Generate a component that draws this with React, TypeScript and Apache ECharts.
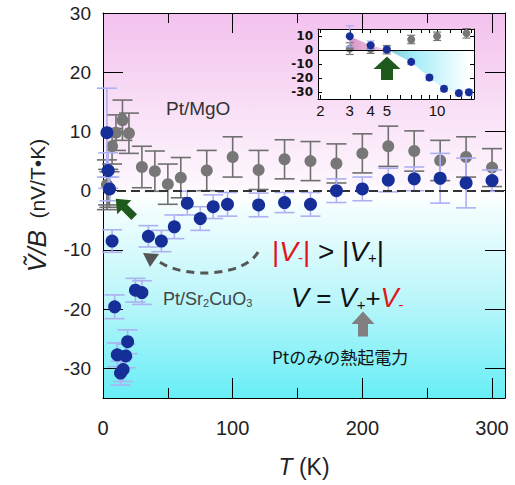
import React, { useEffect, useRef } from "react";
import * as echarts from "echarts";

// ---- data ----
// Pt/MgO (gray)
const grayT = [3, 4, 5, 7, 10, 15, 20, 30, 40, 50, 60, 80, 100, 120, 140, 160, 180, 200, 220, 240, 260, 280, 300];
const grayV = [1.0, 0.6, 0.2, 7.5, 9.8, 11.9, 9.7, 4.0, 3.3, 1.1, 2.2, 3.4, 5.7, 3.5, 5.3, 5.0, 4.6, 6.3, 7.5, 6.7, 5.1, 5.7, 3.9];
const grayErr = [4.2, 3, 3, 3, 3, 3.4, 3.4, 3.5, 3.4, 3.4, 3.4, 3.4, 3.4, 3.3, 3.3, 3.3, 3.3, 3.3, 3.4, 3.4, 3.4, 3.4, 3.2];

// Pt/Sr2CuO3 (blue)
const blueT = [3, 4, 5, 7, 9, 11, 13.5, 15.5, 17.5, 19, 25, 30, 35, 45, 55, 65, 75, 85, 96, 120, 140, 160, 180, 200, 220, 240, 260, 280, 300];
const blueV = [9.8, 3.4, 0.3, -8.5, -19.6, -27.7, -30.8, -30.2, -27.9, -25.5, -16.8, -17.2, -7.7, -8.5, -6.1, -2.1, -4.7, -2.7, -2.3, -2.4, -2.0, -2.3, 0.0, 0.3, 1.8, 2.0, 2.1, 1.3, 1.7];
const blueErr = [7.5, 3, 2, 1.9, 2, 2, 2, 2, 2, 2, 2, 2, 1.8, 1.8, 2, 2, 2, 2, 2, 2, 1.7, 2, 2, 2, 2, 2, 4.2, 4.2, 1.8];

// axis ticks / labels
const mainXMajor = [0, 100, 200, 300];
const mainXMinor = [50, 150, 250];
const mainYTicks = [-30, -20, -10, 0, 10, 20];
const mainYLabels = [-30, -20, -10, 0, 10, 20, 30];
const insetXLabels = [2, 3, 4, 5, 10];
const insetXTicks = [2, 3, 4, 5, 6, 7, 8, 9, 10, 12, 14, 16];
const insetYTicks = [-30, -20, -10, 0, 10];
const INSET_TMAX = 16.5;

const FONT = "'Liberation Sans', Arial, sans-serif";
const LOG = (t: number) => Math.log10(t);

function errBars(half: number, color: string, lw: number) {
  return (_params: any, api: any) => {
    const x = api.value(0);
    const lo = api.coord([x, api.value(1)]);
    const hi = api.coord([x, api.value(2)]);
    const st = { stroke: color, lineWidth: lw };
    return {
      type: "group",
      children: [
        { type: "line", shape: { x1: lo[0], y1: lo[1], x2: hi[0], y2: hi[1] }, style: st },
        { type: "line", shape: { x1: lo[0] - half, y1: lo[1], x2: lo[0] + half, y2: lo[1] }, style: st },
        { type: "line", shape: { x1: hi[0] - half, y1: hi[1], x2: hi[0] + half, y2: hi[1] }, style: st },
      ],
    };
  };
}

export default function App() {
  const ref = useRef<HTMLDivElement>(null);
  useEffect(() => {
    document.body.style.margin = "0";
    const chart = echarts.init(ref.current!, undefined, { renderer: "svg" });

    const grayErrData = grayT.map((t, i) => [t, grayV[i] - grayErr[i], grayV[i] + grayErr[i]]);
    const blueErrData = blueT.map((t, i) => [t, blueV[i] - blueErr[i], blueV[i] + blueErr[i]]);
    const grayPts = grayT.map((t, i) => [t, grayV[i]]);
    const bluePts = blueT.map((t, i) => [t, blueV[i]]);

    const inG = grayT.map((_t, i) => i).filter((i) => grayT[i] <= INSET_TMAX);
    const inB = blueT.map((_t, i) => i).filter((i) => blueT[i] <= INSET_TMAX);
    const inGrayErr = inG.map((i) => [LOG(grayT[i]), grayV[i] - grayErr[i], grayV[i] + grayErr[i]]);
    const inBlueErr = inB.map((i) => [LOG(blueT[i]), blueV[i] - blueErr[i], blueV[i] + blueErr[i]]);
    const inGrayPts = inG.map((i) => [LOG(grayT[i]), grayV[i]]);
    const inBluePts = inB.map((i) => [LOG(blueT[i]), blueV[i]]);
    const pinkArea = inB.filter((i) => blueT[i] <= 5).map((i) => [LOG(blueT[i]), blueV[i]]);
    const cyanArea = inB.filter((i) => blueT[i] >= 5).map((i) => [LOG(blueT[i]), blueV[i]]);

    const axisLine = { show: true, onZero: false, lineStyle: { color: "#000", width: 1 } };
    const tickStyle = { color: "#000", width: 1 };
    const hidden = { show: false };

    const mainBg = new echarts.graphic.LinearGradient(0, 0, 0, 1, [
      { offset: 0, color: "#f3c1ee" },
      { offset: 0.22, color: "#f8dcf5" },
      { offset: 0.44, color: "#fdf6fd" },
      { offset: 0.47, color: "#ffffff" },
      { offset: 0.52, color: "#f0fdfe" },
      { offset: 0.75, color: "#b9f6fa" },
      { offset: 1, color: "#68eef6" },
    ]);

    const option: any = {
      animation: false,
      grid: [
        { left: 103, top: 13, width: 402, height: 385, show: true, backgroundColor: mainBg, borderWidth: 0 },
        { left: 318, top: 29, width: 156, height: 70, show: true, backgroundColor: "#ffffff", borderWidth: 0 },
      ],
      xAxis: [
        {
          gridIndex: 0, type: "value", min: 0, max: 310, interval: 100, position: "bottom",
          axisLine, splitLine: hidden,
          axisTick: { inside: true, length: 20, customValues: mainXMajor, lineStyle: tickStyle },
          axisLabel: { customValues: mainXMajor, fontSize: 20, color: "#222", margin: 20, fontFamily: FONT, hideOverlap: false },
          name: "{i|T} (K)", nameLocation: "middle", nameGap: 57,
          nameTextStyle: { fontSize: 23, color: "#222", fontFamily: FONT, rich: { i: { fontSize: 23, fontStyle: "italic", fontFamily: FONT, color: "#222" } } },
        },
        {
          gridIndex: 0, type: "value", min: 0, max: 310, interval: 100, position: "top",
          axisLine, splitLine: hidden, axisLabel: hidden,
          axisTick: { inside: true, length: 20, customValues: mainXMajor, lineStyle: tickStyle },
        },
        {
          gridIndex: 0, type: "value", min: 0, max: 310, interval: 100, position: "bottom",
          axisLine: { show: false, onZero: false }, splitLine: hidden, axisLabel: hidden,
          axisTick: { inside: true, length: 10, customValues: mainXMinor, lineStyle: tickStyle },
        },
        {
          gridIndex: 0, type: "value", min: 0, max: 310, interval: 100, position: "top",
          axisLine: { show: false, onZero: false }, splitLine: hidden, axisLabel: hidden,
          axisTick: { inside: true, length: 10, customValues: mainXMinor, lineStyle: tickStyle },
        },
        {
          gridIndex: 1, type: "value", min: 0.287, max: 1.221, position: "bottom",
          axisLine, splitLine: hidden,
          axisTick: { inside: true, length: 4, customValues: insetXTicks.map(LOG), lineStyle: tickStyle },
          axisLabel: {
            customValues: insetXLabels.map(LOG), formatter: (v: number) => String(Math.round(Math.pow(10, v))),
            fontSize: 15, color: "#111", margin: 4, fontFamily: FONT, hideOverlap: false,
          },
        },
        {
          gridIndex: 1, type: "value", min: 0.287, max: 1.221, position: "top",
          axisLine, splitLine: hidden, axisLabel: hidden,
          axisTick: { inside: true, length: 4, customValues: insetXTicks.map(LOG), lineStyle: tickStyle },
        },
      ],
      yAxis: [
        {
          gridIndex: 0, type: "value", min: -35, max: 30, splitNumber: 6, position: "left",
          axisLine, splitLine: hidden,
          axisTick: { inside: true, length: 20, customValues: mainYTicks, lineStyle: tickStyle },
          axisLabel: { customValues: mainYLabels, fontSize: 19, color: "#222", margin: 12, fontFamily: FONT, hideOverlap: false },
          name: "{i|V\u0303/B}  {n|(nV/T\u2022K)}", nameLocation: "middle", nameRotate: 90, nameGap: 53,
          nameTextStyle: {
            fontSize: 21, color: "#222", fontFamily: FONT,
            rich: {
              i: { fontSize: 26, fontStyle: "italic", fontFamily: FONT, color: "#222" },
              n: { fontSize: 21, fontFamily: FONT, color: "#222" },
            },
          },
        },
        {
          gridIndex: 0, type: "value", min: -35, max: 30, splitNumber: 6, position: "right",
          axisLine, splitLine: hidden, axisLabel: hidden,
          axisTick: { inside: true, length: 20, customValues: mainYTicks, lineStyle: tickStyle },
        },
        {
          gridIndex: 1, type: "value", min: -35, max: 15, position: "left",
          axisLine, splitLine: hidden,
          axisTick: { inside: true, length: 4, customValues: insetYTicks, lineStyle: tickStyle },
          axisLabel: {
            customValues: insetYTicks, fontSize: 12, lineHeight: 12, fontWeight: "bold", color: "#111", margin: 5,
            fontFamily: "'DejaVu Sans', sans-serif", hideOverlap: false, showMinLabel: true, showMaxLabel: true,
          },
        },
        {
          gridIndex: 1, type: "value", min: -35, max: 15, position: "right",
          axisLine, splitLine: hidden, axisLabel: hidden,
          axisTick: { inside: true, length: 4, customValues: insetYTicks, lineStyle: tickStyle },
        },
      ],
      series: [
        {
          type: "custom", xAxisIndex: 0, yAxisIndex: 0, data: grayErrData, encode: { x: 0, y: [1, 2] },
          renderItem: errBars(10, "#6f6f6f", 1.6), z: 2, silent: true,
          markLine: {
            silent: true, symbol: "none", label: { show: false },
            lineStyle: { type: [9, 5], color: "#333", width: 2 },
            data: [{ yAxis: 0 }],
          },
        },
        {
          type: "scatter", xAxisIndex: 0, yAxisIndex: 0, data: grayPts, symbolSize: 12,
          itemStyle: { color: "#777777", opacity: 1 }, z: 3,
        },
        {
          type: "custom", xAxisIndex: 0, yAxisIndex: 0, data: blueErrData, encode: { x: 0, y: [1, 2] },
          renderItem: errBars(10, "#aeb0f2", 1.6), z: 4, silent: true,
        },
        {
          type: "scatter", xAxisIndex: 0, yAxisIndex: 0, data: bluePts, symbolSize: 13,
          itemStyle: { color: "#152e98", opacity: 1 }, z: 5,
        },
        // inset
        {
          type: "line", xAxisIndex: 4, yAxisIndex: 2, data: pinkArea, symbol: "none",
          lineStyle: { width: 0, opacity: 0 },
          areaStyle: {
            origin: "auto", opacity: 1,
            color: new echarts.graphic.LinearGradient(0, 0, 1, 0, [
              { offset: 0, color: "#d992c8" },
              { offset: 1, color: "#f3d8ec" },
            ]),
          },
          z: 2, silent: true,
          markLine: {
            silent: true, symbol: "none", label: { show: false },
            lineStyle: { type: "solid", color: "#000", width: 1 },
            data: [{ yAxis: 0 }],
          },
        },
        {
          type: "line", xAxisIndex: 4, yAxisIndex: 2, data: cyanArea, symbol: "none",
          lineStyle: { width: 0, opacity: 0 },
          areaStyle: {
            origin: "auto", opacity: 1,
            color: new echarts.graphic.LinearGradient(0, 0, 1, 0, [
              { offset: 0, color: "#7cc6d4" },
              { offset: 0.35, color: "#a6eef8" },
              { offset: 1, color: "#ffffff" },
            ]),
          },
          z: 2, silent: true,
        },
        {
          type: "custom", xAxisIndex: 4, yAxisIndex: 2, data: inGrayErr, encode: { x: 0, y: [1, 2] },
          renderItem: errBars(4, "#777", 1.2), z: 3, silent: true,
        },
        {
          type: "scatter", xAxisIndex: 4, yAxisIndex: 2, data: inGrayPts, symbolSize: 8,
          itemStyle: { color: "#777777", opacity: 1 }, z: 4,
        },
        {
          type: "custom", xAxisIndex: 4, yAxisIndex: 2, data: inBlueErr, encode: { x: 0, y: [1, 2] },
          renderItem: errBars(4, "#a8aaf0", 1.2), z: 5, silent: true,
        },
        {
          type: "scatter", xAxisIndex: 4, yAxisIndex: 2, data: inBluePts, symbolSize: 8,
          itemStyle: { color: "#152e98", opacity: 1 }, z: 6,
        },
      ],
      graphic: [
        {
          type: "text", x: 166, y: 108, z: 100,
          style: { text: "Pt/MgO", fontSize: 19, fontFamily: FONT, fill: "#333", verticalAlign: "middle" },
        },
        {
          type: "text", x: 163, y: 299, z: 100,
          style: {
            text: "Pt/Sr{s|2}CuO{s|3}", fontSize: 18, fontFamily: FONT, fill: "#444", verticalAlign: "middle",
            rich: { s: { fontSize: 11, fontFamily: FONT, fill: "#444", verticalAlign: "bottom" } },
          },
        },
        {
          type: "text", x: 272, y: 251, z: 100,
          style: {
            text: "{r||}{ri|V}{rs|-}{r||}{b| > |}{bi|V}{bs|+}{b||}",
            fontSize: 28, fontFamily: FONT, verticalAlign: "middle",
            rich: {
              r: { fontSize: 28, fontFamily: FONT, fill: "#e3131b" },
              ri: { fontSize: 28, fontFamily: FONT, fontStyle: "italic", fill: "#e3131b" },
              rs: { fontSize: 15, fontFamily: FONT, fill: "#e3131b", verticalAlign: "bottom" },
              b: { fontSize: 28, fontFamily: FONT, fill: "#111" },
              bi: { fontSize: 28, fontFamily: FONT, fontStyle: "italic", fill: "#111" },
              bs: { fontSize: 15, fontFamily: FONT, fill: "#111", verticalAlign: "bottom" },
            },
          },
        },
        {
          type: "text", x: 291, y: 298, z: 100,
          style: {
            text: "{bi|V}{b| = }{bi|V}{bs|+}{b|+}{ri|V}{rs|-}",
            fontSize: 26, fontFamily: FONT, verticalAlign: "middle",
            rich: {
              b: { fontSize: 26, fontFamily: FONT, fill: "#111" },
              bi: { fontSize: 27, fontFamily: FONT, fontStyle: "italic", fill: "#111" },
              bs: { fontSize: 15, fontFamily: FONT, fill: "#111", verticalAlign: "bottom" },
              ri: { fontSize: 27, fontFamily: FONT, fontStyle: "italic", fill: "#e3131b" },
              rs: { fontSize: 15, fontFamily: FONT, fill: "#e3131b", verticalAlign: "bottom" },
            },
          },
        },
        {
          type: "text", x: 272, y: 356, z: 100,
          style: { text: "Ptのみの熱起電力", fontSize: 17, fontFamily: "'Noto Sans CJK JP', 'Liberation Sans', sans-serif", fill: "#111", verticalAlign: "middle" },
        },
        // gray up arrow
        {
          type: "polygon", x: 363, y: 324, z: 100,
          shape: { points: [[0, -12.5], [11.5, 0], [5, 0], [5, 12.5], [-5, 12.5], [-5, 0], [-11.5, 0]] },
          style: { fill: "#808080" },
        },
        // dashed curved arrow
        {
          type: "bezierCurve", z: 100,
          shape: { x1: 258, y1: 252, cpx1: 245, cpy1: 276, cpx2: 185, cpy2: 280, x2: 158, y2: 261 },
          style: { stroke: "#555", lineWidth: 3, lineDash: [8, 6], fill: "none" },
        },
        {
          type: "polygon", z: 100,
          shape: { points: [[143, 253], [159, 254], [150, 267]] },
          style: { fill: "#555" },
        },
        // main green arrow (pointing up-left)
        {
          type: "polygon", x: 125, y: 208, rotation: Math.PI / 4, z: 100,
          shape: { points: [[0, -13], [10, -1], [4, -1], [4, 13], [-4, 13], [-4, -1], [-10, -1]] },
          style: { fill: "#1e5a1c" },
        },
        // inset green arrow (pointing up)
        {
          type: "polygon", x: 387, y: 68, z: 100,
          shape: { points: [[0, -11.5], [13.5, 1], [6, 1], [6, 12], [-6, 12], [-6, 1], [-13.5, 1]] },
          style: { fill: "#1e5a1c" },
        },
      ],
    };

    chart.setOption(option);
    return () => chart.dispose();
  }, []);

  return <div ref={ref} style={{ width: 515, height: 485 }} />;
}
